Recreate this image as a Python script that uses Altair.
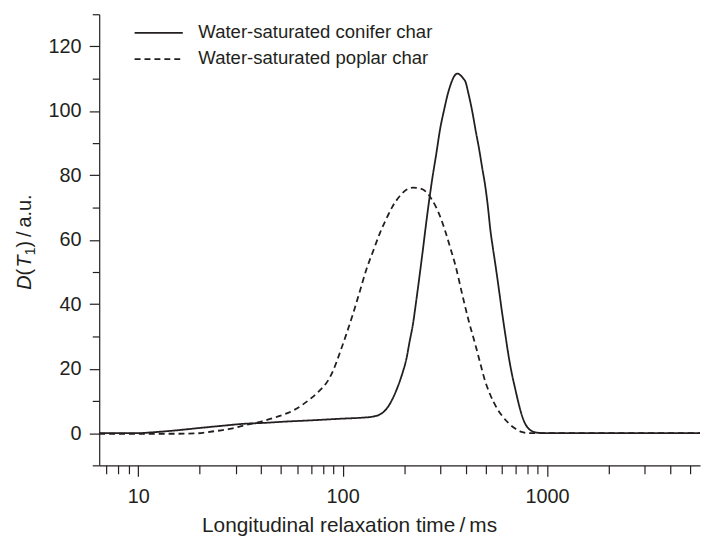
import altair as alt
import pandas as pd

# ---------------- data ----------------
series_names = ["Water-saturated conifer char", "Water-saturated poplar char"]

conifer_t = [6.45, 10, 12, 15, 20, 26, 33, 42, 50, 72, 100, 125, 140, 150, 158, 166, 175,
             185, 197, 205, 212, 221, 229, 238, 247, 256, 266, 276, 286, 300, 314, 326,
             338, 350, 364, 378, 390, 399, 412, 430, 447, 464, 481, 499, 514, 528, 543,
             558, 580, 602, 625, 648, 672, 698, 725, 752, 780, 809, 850, 889, 950, 1200, 5595]
conifer_d = [0, 0, 0.3, 0.8, 1.6, 2.3, 2.9, 3.2, 3.5, 4.0, 4.5, 4.8, 5.1, 5.6, 6.5, 8.0, 10.5,
             14.0, 19, 23, 28, 34, 41, 49, 57, 65, 73, 80, 86, 94.5, 100.5, 105,
             108.3, 110.6, 111.6, 111, 110, 109, 105.5, 100, 94, 88.5, 82.5, 76.4, 70, 63, 57.5,
             52.5, 45, 37.5, 30.5, 24, 18.5, 13.8, 9.3, 5.6, 3.0, 1.5, 0.5, 0.15, 0, 0, 0]

poplar_t = [6.45, 10, 15, 19, 23, 28, 33, 40, 48, 58, 70, 78, 84, 90, 97, 104, 113, 122,
            131, 141, 152, 165, 176, 190, 205, 220, 236, 256, 270, 286, 303, 320, 338,
            357, 386, 415, 447, 475, 499, 520, 548, 575, 602, 650, 698, 750, 809, 900,
            1500, 5595]
poplar_d = [-0.2, -0.2, -0.2, -0.1, 0.5, 1.3, 2.4, 3.6, 5.1, 7.2, 10.8, 13.5, 15.9, 19.5, 25,
            30.5, 37.5, 44.5, 51, 56.5, 62, 67, 70.5, 73.5, 75.5, 76.2, 76, 74.9, 73, 70.2,
            66.5, 62, 57, 51.8, 42.6, 34.5, 27.2, 20.8, 15.9, 12.8, 9.6, 7.2, 5.4, 3.0, 1.4,
            0.4, 0, 0, 0, 0]

x_major = [10, 100, 1000]
x_ticks = [7, 8, 9, 10, 20, 30, 40, 50, 60, 70, 80, 90, 100, 200, 300, 400, 500, 600,
           700, 800, 900, 1000, 2000, 3000, 4000, 5000]
y_ticks = list(range(-10, 131, 10))
x_title = "Longitudinal relaxation time\u2009/\u2009ms"

# ---------------- styling ----------------
INK = "#231f20"
FONT = "Liberation Sans"

df = pd.concat([
    pd.DataFrame({"t": conifer_t, "d": conifer_d, "series": series_names[0]}),
    pd.DataFrame({"t": poplar_t, "d": poplar_d, "series": series_names[1]}),
])

x_scale = alt.Scale(type="log", domain=[6.45, 5595], nice=False)
y_scale = alt.Scale(domain=[-10, 130], nice=False, zero=False)

major_test = " || ".join(f"datum.value == {v}" for v in x_major)

lines = alt.Chart(df).mark_line(interpolate="monotone", strokeWidth=1.8, color=INK).encode(
    x=alt.X("t:Q", scale=x_scale,
            axis=alt.Axis(values=x_ticks,
                          labelExpr=f"({major_test}) ? format(datum.value, 'd') : ''",
                          tickSize={"condition": {"test": major_test, "value": 11}, "value": 8.5},
                          labelPadding=10.5, labelFlush=False, labelOverlap=False, labelBound=False,
                          title=x_title, titleX=252, titleY=66.5, titleBaseline="alphabetic",
                          titleAlign="center", titleFontSize=21)),
    y=alt.Y("d:Q", scale=y_scale,
            axis=alt.Axis(values=y_ticks,
                          labelExpr="datum.value % 20 == 0 ? datum.label : ''",
                          tickSize={"condition": {"test": "datum.value % 20 == 0", "value": 10}, "value": 7},
                          labelPadding=8.3, labelOverlap=False, title=None)),
    strokeDash=alt.StrokeDash("series:N",
                              scale=alt.Scale(domain=series_names, range=[[1, 0], [6, 4]]),
                              legend=None),
)

one = pd.DataFrame({"k": [0]})

# hand-drawn legend
leg_solid = alt.Chart(one).mark_rule(color=INK, strokeWidth=1.8).encode(
    x=alt.value(35.7), x2=alt.value(84.3), y=alt.value(18.7))
leg_dash = alt.Chart(one).mark_rule(color=INK, strokeWidth=1.8, strokeDash=[6, 4]).encode(
    x=alt.value(35.7), x2=alt.value(84.3), y=alt.value(45.3))
leg_txt1 = alt.Chart(one).mark_text(text=series_names[0], align="left", baseline="alphabetic",
                                    font=FONT, fontSize=18.7, color=INK).encode(
    x=alt.value(100), y=alt.value(23.9))
leg_txt2 = alt.Chart(one).mark_text(text=series_names[1], align="left", baseline="alphabetic",
                                    font=FONT, fontSize=18.7, color=INK).encode(
    x=alt.value(100), y=alt.value(50.5))

# y-axis title built from pieces: D (T1)/a.u.
def ypiece(txt, ypos, style="normal", size=20, dy=0):
    return alt.Chart(one).mark_text(text=txt, angle=270, align="left", baseline="alphabetic",
                                    font=FONT, fontSize=size, fontStyle=style, color=INK,
                                    dy=dy).encode(x=alt.value(-68.5), y=alt.value(ypos))

ytitle = [
    ypiece("D", 278, "italic"),
    ypiece("\u2009(", 263.6),
    ypiece("T", 255.4, "italic"),
    ypiece("1", 243.2, size=14, dy=4),
    ypiece(")\u2009/\u2009a.u.", 235.4),
]

chart = alt.layer(lines, leg_solid, leg_dash, leg_txt1, leg_txt2, *ytitle).properties(
    width=606, height=455,
    padding={"left": 92, "top": 4, "right": 1, "bottom": 72},
    autosize=alt.AutoSizeParams(type="none"),
    background="white",
).configure_view(stroke=None).configure_axis(
    grid=False, domainColor=INK, tickColor=INK, labelColor=INK, titleColor=INK,
    domainWidth=1.2, tickWidth=1.2, labelFont=FONT, titleFont=FONT, labelFontSize=20,
    titleFontWeight="normal",
)

chart.save("out.html", embed_options={"renderer": "svg", "actions": False})
